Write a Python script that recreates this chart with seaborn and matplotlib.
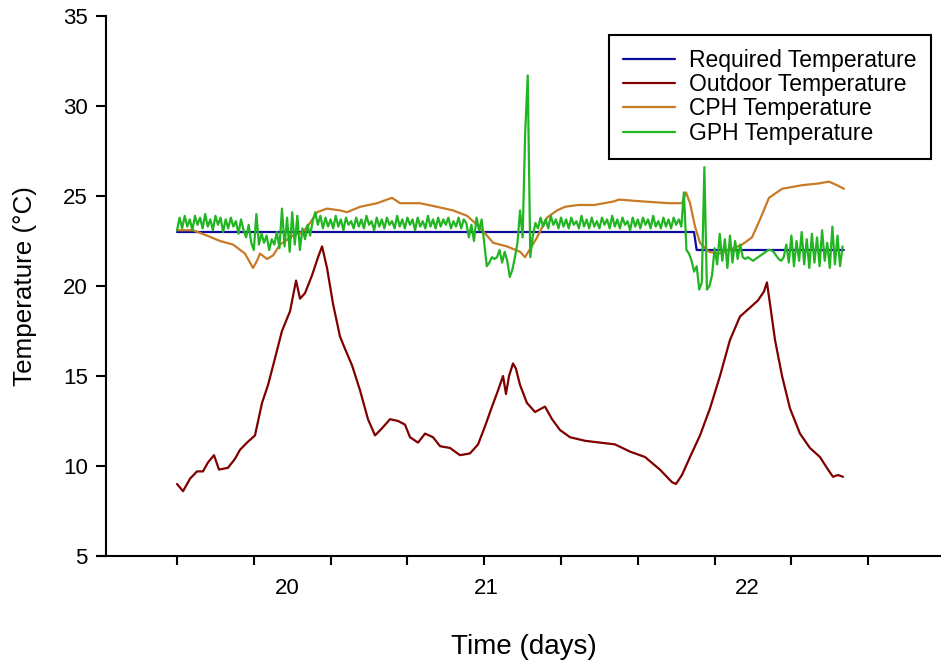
import matplotlib.pyplot as plt
import pandas as pd
import seaborn as sns
import numpy as np

# ==============================================================================
# DATA (hours since the first reading, temperatures in °C)
# ==============================================================================
start_day = 19.5  # day number of the first reading

req_hours = [0.0, 40.39, 40.6, 52.1]
req_temp = [23.0, 23.0, 22.0, 22.0]

out_hours = [0.0, 0.47, 1.02, 1.56, 2.03, 2.42, 2.89, 3.28, 3.98, 4.53,
             4.92, 5.47, 6.09, 6.64, 7.11, 7.66, 8.2, 8.83, 9.3, 9.61,
             10.0, 10.55, 11.02, 11.33, 11.72, 12.19, 12.73, 13.13, 13.67, 14.3,
             14.92, 15.47, 16.02, 16.64, 17.27, 17.81, 18.2, 18.83, 19.38, 20.0,
             20.55, 21.33, 22.11, 22.89, 23.52, 24.06, 24.61, 25.08, 25.47, 25.7,
             25.94, 26.25, 26.48, 26.8, 27.34, 27.97, 28.75, 29.3, 29.92, 30.7,
             31.88, 33.05, 34.22, 35.39, 36.56, 37.73, 38.67, 38.98, 39.45, 40.08,
             40.86, 41.64, 42.42, 43.2, 43.98, 44.77, 45.39, 45.86, 46.09, 46.33,
             46.72, 47.27, 47.89, 48.67, 49.45, 50.23, 50.86, 51.25, 51.64, 52.03]
out_temp = [9.0, 8.6, 9.3, 9.7, 9.7, 10.2, 10.6, 9.8, 9.9, 10.4,
            10.9, 11.3, 11.7, 13.5, 14.5, 16.0, 17.5, 18.6, 20.3, 19.3,
            19.6, 20.6, 21.6, 22.2, 21.0, 19.0, 17.2, 16.5, 15.6, 14.2,
            12.6, 11.7, 12.1, 12.6, 12.5, 12.3, 11.6, 11.3, 11.8, 11.6,
            11.1, 11.0, 10.6, 10.7, 11.2, 12.2, 13.3, 14.2, 15.0, 14.0,
            15.0, 15.7, 15.4, 14.5, 13.5, 13.0, 13.3, 12.6, 12.0, 11.6,
            11.4, 11.3, 11.2, 10.8, 10.5, 9.8, 9.1, 9.0, 9.5, 10.5,
            11.7, 13.2, 15.0, 17.0, 18.3, 18.8, 19.2, 19.7, 20.2, 19.0,
            17.0, 15.0, 13.2, 11.8, 11.0, 10.5, 9.8, 9.4, 9.5, 9.4]

cph_hours = [0.0, 1.25, 2.34, 3.36, 4.38, 5.31, 5.94, 6.25, 6.48, 7.03,
             7.5, 8.05, 9.06, 9.84, 10.39, 10.94, 11.72, 12.73, 13.28, 14.3,
             15.63, 16.8, 17.42, 18.98, 20.31, 21.56, 22.66, 23.44, 24.22, 24.69,
             25.78, 26.8, 27.19, 28.13, 28.91, 29.69, 30.31, 31.33, 32.58, 34.14,
             34.53, 36.33, 38.44, 39.45, 39.77, 40.08, 40.47, 40.86, 41.56, 42.34,
             43.13, 44.14, 44.92, 45.55, 46.25, 47.27, 48.83, 50.16, 50.94, 51.56,
             52.11]
cph_temp = [23.1, 23.1, 22.8, 22.5, 22.3, 21.8, 21.0, 21.4, 21.8, 21.5,
            21.7, 22.3, 22.8, 23.0, 23.5, 24.1, 24.3, 24.2, 24.1, 24.4,
            24.6, 24.9, 24.6, 24.6, 24.4, 24.2, 23.9, 23.4, 22.8, 22.4,
            22.2, 21.9, 21.6, 22.7, 23.8, 24.2, 24.4, 24.5, 24.5, 24.7,
            24.8, 24.7, 24.6, 24.6, 25.2, 24.6, 23.3, 22.4, 21.9, 21.8,
            22.0, 22.3, 22.7, 23.7, 24.9, 25.4, 25.6, 25.7, 25.8, 25.6,
            25.4]

gph_step = 0.2  # logger interval, hours
gph_temp = [23.1, 23.8, 23.2, 23.9, 23.3, 23.7, 23.1, 23.9, 23.4, 23.8,
            23.2, 24.0, 23.3, 23.7, 23.1, 23.9, 23.4, 23.8, 23.0, 23.7,
            23.2, 23.8, 23.3, 23.6, 22.9, 23.7, 23.1, 22.7, 23.4, 22.4,
            22.0, 24.0, 22.3, 22.9, 22.4, 22.8, 22.0, 22.6, 22.3, 23.0,
            22.1, 24.3, 22.2, 23.8, 21.9, 24.1, 22.3, 23.9, 22.0, 23.2,
            22.6, 23.4, 22.8, 23.6, 24.1, 23.4, 23.9, 23.2, 23.8, 23.3,
            23.7, 23.2, 23.9, 23.3, 23.7, 23.1, 23.8, 23.4, 23.6, 23.2,
            23.8, 23.3, 23.7, 23.2, 23.9, 23.4, 23.6, 23.1, 23.8, 23.3,
            23.7, 23.2, 23.8, 23.4, 23.6, 23.2, 23.9, 23.3, 23.7, 23.2,
            23.8, 23.4, 23.7, 23.1, 23.8, 23.3, 23.6, 23.2, 23.9, 23.3,
            23.7, 23.2, 23.8, 23.3, 23.7, 23.4, 23.8, 23.2, 23.6, 23.3,
            23.8, 23.2, 23.7, 23.5, 22.7, 23.4, 22.5, 23.8, 23.1, 23.7,
            22.4, 21.1, 21.3, 21.6, 21.5, 21.6, 22.0, 21.3, 21.9, 21.4,
            20.5, 20.9, 21.6, 22.4, 24.2, 22.7, 28.5, 31.7, 21.6, 22.8,
            23.5, 23.2, 23.8, 23.3, 23.7, 23.2, 23.9, 23.4, 23.7, 23.2,
            23.8, 23.3, 23.7, 23.2, 23.8, 23.4, 23.6, 23.2, 23.9, 23.3,
            23.7, 23.2, 23.8, 23.3, 23.6, 23.2, 23.8, 23.4, 23.7, 23.2,
            23.9, 23.3, 23.7, 23.2, 23.8, 23.4, 23.6, 23.1, 23.8, 23.3,
            23.7, 23.2, 23.8, 23.4, 23.7, 23.2, 23.9, 23.3, 23.6, 23.2,
            23.8, 23.3, 23.7, 23.2, 23.8, 23.4, 23.7, 23.3, 25.2, 22.0,
            21.8, 21.4, 20.8, 21.1, 19.8, 20.2, 26.6, 19.8, 20.0, 20.6,
            22.1, 21.2, 22.9, 21.4, 22.6, 21.0, 22.8, 21.3, 22.5, 21.5,
            22.3, 21.6, 21.5, 21.6, 21.5, 21.4, 21.5, 21.6, 21.7, 21.8,
            21.9, 22.0, 22.0, 21.9, 21.7, 21.5, 21.4, 21.6, 22.3, 21.3,
            22.8, 21.1, 22.5, 21.4, 23.0, 21.2, 22.6, 21.0, 22.9, 21.3,
            22.7, 21.1, 23.1, 21.4, 22.4, 21.0, 23.3, 21.2, 22.8, 21.1,
            22.2]
gph_hours = np.arange(len(gph_temp)) * gph_step

series_names = ['Required Temperature', 'Outdoor Temperature',
                'CPH Temperature', 'GPH Temperature']
day_labels = ['20', '21', '22']
day_label_pos = [19.858, 20.506, 21.355]

# ==============================================================================
# LONG-FORM TABLE
# ==============================================================================
frames = []
for name, h, t in zip(series_names,
                      [req_hours, out_hours, cph_hours, gph_hours],
                      [req_temp, out_temp, cph_temp, gph_temp]):
    frames.append(pd.DataFrame({'day': start_day + np.asarray(h) / 24.0,
                                'temp': t, 'series': name}))
df = pd.concat(frames, ignore_index=True)

# ==============================================================================
# PLOT
# ==============================================================================
sns.set_style('ticks')
plt.rcParams['font.family'] = ['Liberation Sans', 'DejaVu Sans']
plt.rcParams['text.color'] = 'black'
plt.rcParams['axes.labelcolor'] = 'black'
plt.rcParams['xtick.color'] = 'black'
plt.rcParams['ytick.color'] = 'black'

cores = {'Required Temperature': '#0c0c9c',
         'Outdoor Temperature': '#800000',
         'CPH Temperature': '#c87a26',
         'GPH Temperature': '#22b522'}

fig = plt.figure(figsize=(9.41, 6.67), dpi=100)
ax = fig.add_axes([106 / 941, 111 / 667, 835 / 941, 540 / 667])

sns.lineplot(data=df, x='day', y='temp', hue='series', hue_order=series_names,
             palette=cores, estimator=None, sort=False, linewidth=1.6, ax=ax)

ax.set_ylim(5, 35)
ax.set_xlim(19.2688, 21.987)
ax.set_yticks(np.arange(5, 36, 5))
ax.set_xticks(np.arange(19.5, 21.76, 0.25))
ax.set_xticklabels([])
ax.set_xticks(day_label_pos, minor=True)
ax.set_xticklabels(day_labels, minor=True)

ax.tick_params(axis='y', which='major', length=7.2, width=1.5, labelsize=16,
               pad=6)
ax.tick_params(axis='x', which='major', length=6.3, width=1.5)
ax.tick_params(axis='x', which='minor', length=0, labelsize=16, pad=16)

for s in ['top', 'right']:
    ax.spines[s].set_visible(False)
for s in ['left', 'bottom']:
    ax.spines[s].set_linewidth(1.5)
    ax.spines[s].set_color('black')
# x-axis line sticks out a little to the left of the y-axis
ax.plot([-10 / 835, 0], [0, 0], transform=ax.transAxes, color='black',
        lw=1.5, clip_on=False, solid_capstyle='butt')

ax.set_xlabel('Time (days)', fontsize=20)
ax.set_ylabel('Temperature (°C)', fontsize=18.7)
ax.xaxis.set_label_coords(0.5, -0.144)
ax.yaxis.set_label_coords(-0.083, 0.5)

handles, labels = ax.get_legend_handles_labels()
leg = ax.legend(handles, labels, loc='upper left',
                bbox_to_anchor=(609 / 941, 1 - 35 / 667),
                bbox_transform=fig.transFigure, frameon=True, fancybox=False,
                edgecolor='black', framealpha=1, fontsize=16.5,
                handlelength=2.27, handletextpad=0.61, borderpad=0.62,
                labelspacing=0.05, borderaxespad=0)
leg.get_frame().set_linewidth(1.5)

fig.savefig('out.png', dpi=100)
